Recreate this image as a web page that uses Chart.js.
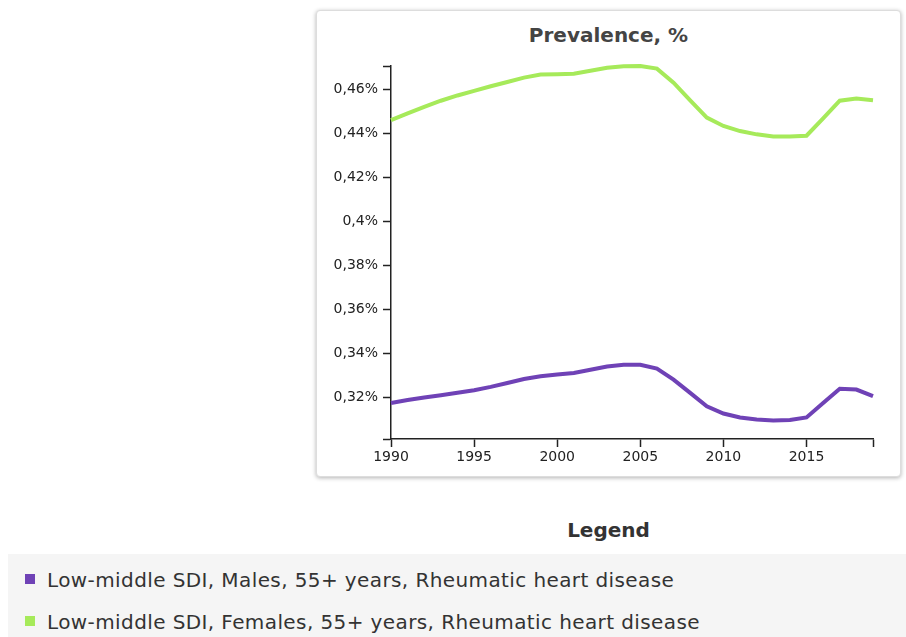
<!DOCTYPE html>
<html>
<head>
<meta charset="utf-8">
<title>Prevalence, %</title>
<script src="https://cdn.jsdelivr.net/npm/chart.js@4.4.0/dist/chart.umd.min.js"></script>
<style>
  body { margin:0; background:#fff; font-family:"DejaVu Sans", Verdana, sans-serif; }
  #card { position:absolute; left:316px; top:10px; width:583px; height:465px;
          border:1px solid #ddd; border-radius:4px; box-shadow:0 1px 4px rgba(0,0,0,.3); background:#fff; }
  #chart { position:absolute; left:316px; top:10px; }
  #title { position:absolute; left:316px; width:585px; top:24px; line-height:22px;
           text-align:center; font-weight:bold; font-size:20px; color:#444; }
  #legend_title { position:absolute; left:316px; width:585px; top:519px; line-height:22px;
                  text-align:center; font-weight:bold; font-size:20px; color:#333; }
  #legend { position:absolute; left:8px; right:0; top:554px; bottom:0; background:#f5f5f5; }
  .item { position:absolute; left:17px; line-height:22px; font-size:20px; letter-spacing:0.4px;
          color:#333; white-space:nowrap; padding-left:22px; }
  .item span { position:absolute; left:0; top:5px; width:10px; height:10px; }
</style>
</head>
<body>
<div id="card"></div>
<div id="title">Prevalence, %</div>
<canvas id="chart" width="585" height="467"></canvas>
<div id="legend_title">Legend</div>
<div id="legend"></div>

<script>
  // values (percent)
  var years = [1990,1991,1992,1993,1994,1995,1996,1997,1998,1999,
               2000,2001,2002,2003,2004,2005,2006,2007,2008,2009,
               2010,2011,2012,2013,2014,2015,2016,2017,2018,2019];
  var males = [0.3175,0.3188,0.3200,0.3210,0.3221,0.3233,0.3248,0.3266,0.3284,0.3296,
               0.3304,0.3311,0.3326,0.3341,0.3349,0.3349,0.3331,0.3281,0.3221,0.3160,
               0.3127,0.3109,0.3100,0.3095,0.3097,0.3109,0.3175,0.3240,0.3236,0.3206];
  var females = [0.4462,0.4492,0.4522,0.4550,0.4574,0.4595,0.4616,0.4635,0.4655,0.4669,
                 0.4671,0.4673,0.4686,0.4700,0.4707,0.4708,0.4696,0.4632,0.4552,0.4473,
                 0.4435,0.4412,0.4397,0.4387,0.4387,0.4391,0.4470,0.4550,0.4560,0.4552];
  var series_labels = ["Low-middle SDI, Males, 55+ years, Rheumatic heart disease",
                       "Low-middle SDI, Females, 55+ years, Rheumatic heart disease"];
  var series_colors = ["#6f42b6", "#a6ea5a"];
  var y_ticks = [0.32,0.34,0.36,0.38,0.4,0.42,0.44,0.46];
  var x_ticks = [1990,1995,2000,2005,2010,2015];
  var y_min = 0.3011, y_max = 0.4708;
  var x_min = 1990, x_max = 2019;
</script>
<script>
  // html legend
  var leg = document.getElementById("legend");
  series_labels.forEach(function(lab, i){
    var d = document.createElement("div");
    d.className = "item";
    d.style.top = (15 + i*42) + "px";
    d.innerHTML = '<span style="background:' + series_colors[i] + '"></span>' + lab;
    leg.appendChild(d);
  });

  function pts(vals){
    return years.map(function(y, i){ return {x: y, y: vals[i]}; });
  }

  var tick_font = {family: "DejaVu Sans", size: 14};
  var ctx = document.getElementById("chart").getContext("2d");

  let chart = new Chart(ctx, {
    type: 'line',
    data: {
      datasets: [{
        label: series_labels[0],
        data: pts(males),
        borderColor: series_colors[0],
        borderWidth: 4,
        pointRadius: 0,
        tension: 0,
        fill: false
      }, {
        label: series_labels[1],
        data: pts(females),
        borderColor: series_colors[1],
        borderWidth: 4,
        pointRadius: 0,
        tension: 0,
        fill: false
      }]
    },
    options: {
      responsive: false,
      animation: false,
      clip: false,
      layout: { padding: { left: 0, right: 28, top: 56, bottom: 0 } },
      plugins: { legend: { display: false }, tooltip: { enabled: false } },
      scales: {
        x: {
          type: 'linear',
          min: x_min, max: x_max,
          afterBuildTicks: function(s){
            s.ticks = x_ticks.concat([x_max]).map(function(v){ return {value: v}; });
          },
          afterFit: function(s){ s.height = 38; },
          ticks: {
            color: '#222', font: tick_font, padding: 2, maxRotation: 0, autoSkip: false,
            callback: function(v){ return x_ticks.indexOf(v) >= 0 ? String(v) : ''; }
          },
          grid: { drawOnChartArea: false, tickLength: 8, tickColor: '#222', tickWidth: 1.5 },
          border: { color: '#222', width: 1.5 }
        },
        y: {
          min: y_min, max: y_max,
          afterBuildTicks: function(s){
            s.ticks = [y_min].concat(y_ticks, [y_max]).map(function(v){ return {value: v}; });
          },
          afterFit: function(s){ s.width = 75; },
          ticks: {
            color: '#222', font: tick_font, padding: 5, autoSkip: false,
            callback: function(v){ return y_ticks.indexOf(v) >= 0 ? String(v).replace('.', ',') + '%' : ''; }
          },
          grid: { drawOnChartArea: false, tickLength: 8, tickColor: '#222', tickWidth: 1.5 },
          border: { color: '#222', width: 1.5 }
        }
      }
    }
  });
</script>
</body>
</html>
